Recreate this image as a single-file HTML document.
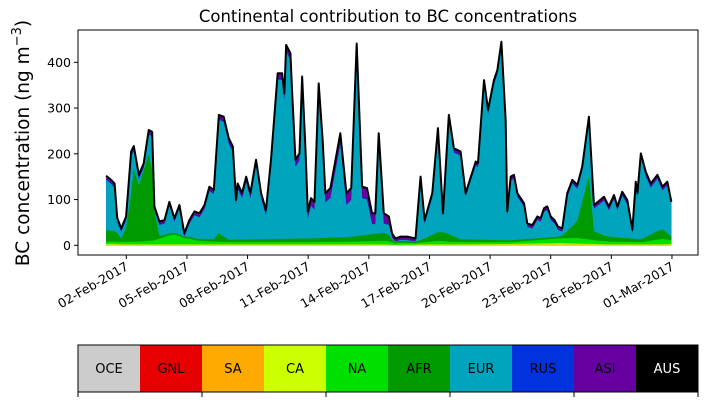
<!DOCTYPE html>
<html><head><meta charset="utf-8">
<style>
html,body{margin:0;padding:0;background:#fff;}
svg{display:block;font-family:"DejaVu Sans","Liberation Sans",sans-serif;}
</style></head>
<body>
<svg id="chart" width="707" height="402" viewBox="0 0 707 402" xmlns="http://www.w3.org/2000/svg"></svg>
<script>
// ---- data (days since 01-Feb-2017 00:00) ----
const days = [0,0.25,0.42,0.55,0.75,0.99,1.24,1.37,1.62,1.86,2.11,2.28,2.39,2.64,2.89,3.13,3.38,3.63,3.87,4.12,4.37,4.62,4.87,5.11,5.33,5.58,5.82,6.07,6.27,6.43,6.51,6.73,6.93,7.14,7.42,7.67,7.91,8.16,8.49,8.71,8.82,8.91,9.12,9.20,9.37,9.57,9.70,9.86,9.98,10.14,10.31,10.52,10.72,10.85,11.10,11.59,11.89,12.13,12.40,12.67,12.91,13.16,13.32,13.49,13.74,13.99,14.15,14.32,14.57,14.90,15.31,15.56,15.76,16.14,16.42,16.67,16.96,17.21,17.54,17.79,18.29,18.40,18.70,18.90,19.19,19.36,19.56,19.77,19.85,20.02,20.18,20.35,20.68,20.84,21.09,21.34,21.50,21.67,21.83,22.00,22.19,22.36,22.57,22.82,23.07,23.32,23.56,23.89,24.14,24.64,24.88,25.13,25.30,25.54,25.79,26.04,26.21,26.29,26.46,26.70,26.95,27.28,27.53,27.77,27.97];
const total = [152,143,135,60,37,63,205,217,154,179,252,248,85,52,55,95,59,88,26,55,74,70,88,128,121,285,281,234,216,99,135,114,150,114,187,114,77,187,376,376,332,438,420,340,187,201,369,216,74,103,95,354,227,114,125,245,114,125,441,128,125,70,70,245,70,63,26,15,19,19,15,150,55,114,256,70,285,212,205,114,183,179,361,296,361,383,445,274,74,150,154,114,92,48,44,63,59,81,85,63,55,41,37,114,143,132,172,281,88,106,85,110,85,117,99,34,139,114,201,161,135,154,128,139,95];
const compDays = [0,0.5,0.8,1.2,1.3,1.6,2.1,2.3,2.45,3.3,4.5,5.4,5.6,6.0,7.5,10,12,13.9,14.2,15.5,16.5,16.9,17.5,20,22.5,23.3,23.9,24.15,25,26.5,27.5,27.97];
const naVals  = [5,5,5,6,6,6,8,8,10,22,8,6,6,5,5,5,6,8,4,4,8,6,5,4,10,12,10,8,6,5,12,8];
const afrVals = [25,22,5,60,170,120,190,150,6,4,4,5,20,5,6,8,10,18,4,4,20,18,6,4,4,35,140,15,10,6,22,8];
const asiVals = [7,8,7,8,8,8,8,8,7,7,8,8,9,10,10,15,25,22,7,8,8,8,7,7,7,7,7,7,8,8,7,6];
const lowVals = [3,3,2,2,2,2,2,2,2,2,2,2,2,2,2,2,2,2,1,2,2,2,2,3,5,4,3,3,2,2,2,3];
const dateLabels = ["02-Feb-2017","05-Feb-2017","08-Feb-2017","11-Feb-2017","14-Feb-2017","17-Feb-2017","20-Feb-2017","23-Feb-2017","26-Feb-2017","01-Mar-2017"];
const tickDays = [1,4,7,10,13,16,19,22,25,28];
const yTicks = [0,100,200,300,400];
const regions = ["OCE","GNL","SA","CA","NA","AFR","EUR","RUS","ASI","AUS"];
const regionColors = ["#cccccc","#e60000","#ffaa00","#ccff00","#00e000","#009900","#00a5bd","#0033dd","#6600a0","#000000"];

const NS="http://www.w3.org/2000/svg";
const svg=document.getElementById('chart');
const L=78,R=698,T=30,B=255;
const X=d=>126.3+(d-1)*20.21;
const Y=v=>245.3-v*0.4575;
function mk(tag,attrs,parent){const e=document.createElementNS(NS,tag);for(const k in attrs)e.setAttribute(k,attrs[k]);(parent||svg).appendChild(e);return e;}
function interp(xs,ys,x){if(x<=xs[0])return ys[0];for(let i=1;i<xs.length;i++){if(x<=xs[i]){const t=(x-xs[i-1])/(xs[i]-xs[i-1]);return ys[i-1]+t*(ys[i]-ys[i-1]);}}return ys[ys.length-1];}

const layersLow=[],layersNa=[],layersAfr=[],layersEur=[],layersRus=[];
days.forEach((d,i)=>{
  const tot=total[i];
  let low=interp(compDays,lowVals,d),na=interp(compDays,naVals,d),afr=interp(compDays,afrVals,d),asi=interp(compDays,asiVals,d);
  const rus=Math.min(2,tot*0.01);
  let s=low+na+afr+asi+rus;
  if(s>tot*0.97){const f=tot*0.97/s;low*=f;na*=f;afr*=f;asi*=f;}
  const c1=low,c2=c1+na,c3=c2+afr,c5=tot-asi,c4=c5-rus;
  layersLow.push(c1);layersNa.push(c2);layersAfr.push(c3);layersEur.push(Math.max(c3,c4));layersRus.push(Math.max(c3,c5));
});
function band(upper,color,name){
  let dstr="M"+days.map((d,i)=>X(d).toFixed(2)+","+Y(upper[i]).toFixed(2)).join("L");
  dstr+="L"+X(days[days.length-1]).toFixed(2)+","+Y(0).toFixed(2)+"L"+X(days[0]).toFixed(2)+","+Y(0).toFixed(2);
  const p=mk('path',{d:dstr+"Z",fill:color,stroke:'none'});
  
  
}
band(total,"#6600a0","area-asi");
band(layersRus,"#0033dd","area-rus");
band(layersEur,"#00a5bd","area-eur");
band(layersAfr,"#009900","area-afr");
band(layersNa,"#00e000","area-na");
band(layersLow,"#ccdd00","area-ca");
const line=mk('path',{d:"M"+days.map((d,i)=>X(d).toFixed(2)+","+Y(total[i]).toFixed(2)).join("L"),fill:'none',stroke:'#000','stroke-width':2,'stroke-linejoin':'round'});



const fr=mk('rect',{x:L,y:T,width:R-L,height:B-T,fill:'none',stroke:'#000','stroke-width':1});


yTicks.forEach(v=>{
  mk('line',{x1:L-4,x2:L,y1:Y(v),y2:Y(v),stroke:'#000'});
  const t=mk('text',{x:L-7,y:Y(v)+4.5,'text-anchor':'end','font-size':12.5,fill:'#000'});
  t.textContent=v;
  
  
});
tickDays.forEach((d,i)=>{
  const x=X(d);
  mk('line',{x1:x,x2:x,y1:B,y2:B+4,stroke:'#000'});
  const t=mk('text',{x:x+3,y:B+14,'text-anchor':'end','font-size':12.5,fill:'#000',transform:`rotate(-30 ${x+3} ${B+14})`});
  t.textContent=dateLabels[i];
  
  
});
const title=mk('text',{x:388,y:22,'text-anchor':'middle','font-size':16.5,fill:'#000'});
title.textContent="Continental contribution to BC concentrations";


const yl=mk('text',{x:0,y:0,'text-anchor':'middle','font-size':18.5,fill:'#000',transform:'translate(29,143) rotate(-90)'});
yl.innerHTML='BC concentration (ng m<tspan dy="-8" font-size="13">−3</tspan><tspan dy="8">)</tspan>';



const segW=(R-L)/regions.length;
regions.forEach((r,i)=>{
  const g=mk('g',{});
  
  
  mk('rect',{x:L+i*segW,y:345,width:segW,height:47,fill:regionColors[i]},g);
  const t=mk('text',{x:L+i*segW+segW/2,y:373,'text-anchor':'middle','font-size':13,fill:r==="AUS"?'#fff':'#000'},g);
  t.textContent=r;
});
const cb=mk('rect',{x:L,y:345,width:R-L,height:47,fill:'none',stroke:'#000'});


for(let i=0;i<=regions.length;i+=2)mk('line',{x1:L+i*segW,x2:L+i*segW,y1:392,y2:397,stroke:'#000'});
</script>
</body></html>
